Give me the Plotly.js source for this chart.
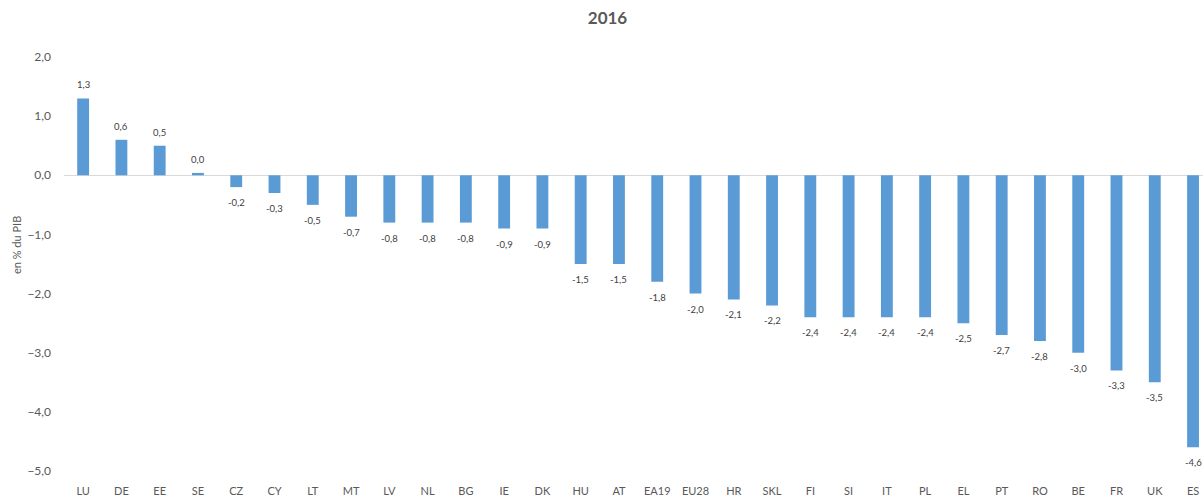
<!DOCTYPE html>
<html>
<head>
<meta charset="utf-8">
<script src="https://cdn.plot.ly/plotly-3.0.1.min.js"></script>
<style>
  body { margin: 0; background: #fff; }
  #chart { width: 1203px; height: 497px; }
</style>
</head>
<body>
<div id="chart"></div>
<script>
// solde en % du PIB, 2016
const countries = ['LU', 'DE', 'EE', 'SE', 'CZ', 'CY', 'LT', 'MT', 'LV', 'NL',
  'BG', 'IE', 'DK', 'HU', 'AT', 'EA19', 'EU28', 'HR', 'SKL', 'FI',
  'SI', 'IT', 'PL', 'EL', 'PT', 'RO', 'BE', 'FR', 'UK', 'ES'];
const balance = [1.3, 0.6, 0.5, 0.04, -0.2, -0.3, -0.5, -0.7, -0.8, -0.8,
  -0.8, -0.9, -0.9, -1.5, -1.5, -1.8, -2.0, -2.1, -2.2, -2.4,
  -2.4, -2.4, -2.4, -2.5, -2.7, -2.8, -3.0, -3.3, -3.5, -4.6];
const yTicks = [2, 1, 0, -1, -2, -3, -4, -5];

const grey = '#595959';
const font = 'Lato, "Open Sans", sans-serif';

const trace = {
  type: 'bar',
  x: countries,
  y: balance,
  width: 0.31,
  marker: { color: '#5B9BD5' },
  hoverinfo: 'x+y'
};

// data labels, pushed a bit away from the bar ends like in Excel
const labels = countries.map((c, i) => ({
  x: c,
  y: balance[i],
  text: balance[i].toFixed(1).replace('.', ','),
  showarrow: false,
  yanchor: balance[i] >= 0 ? 'bottom' : 'top',
  yshift: balance[i] >= 0 ? 6 : -8,
  font: { family: font, size: 9.5, color: '#404040' }
}));

// y title sits off-centre, near the left edge
labels.push({
  xref: 'paper', yref: 'paper',
  x: -0.049, y: 0.545,
  text: 'en % du PIB',
  textangle: -90,
  showarrow: false,
  font: { family: font, size: 11, color: grey }
});

const layout = {
  width: 1203,
  height: 497,
  margin: { l: 64, r: 0, t: 57, b: 26 },
  separators: ', ',
  paper_bgcolor: '#fff',
  plot_bgcolor: '#fff',
  showlegend: false,
  font: { family: font, color: grey },
  title: {
    text: '<b>2016</b>',
    x: 0.505,
    xanchor: 'center',
    y: 0.975,
    font: { family: font, size: 17, color: grey }
  },
  annotations: labels,
  xaxis: {
    type: 'category',
    range: [-0.5, 29.26],
    showgrid: false,
    showline: false,
    ticks: '',
    ticklabelstandoff: 12,
    tickfont: { family: font, size: 11, color: grey }
  },
  yaxis: {
    range: [-5, 2],
    tickvals: yTicks,
    tickformat: '.1f',
    showgrid: false,
    showline: false,
    zeroline: true,
    zerolinecolor: '#D9D9D9',
    zerolinewidth: 1.5,
    ticks: '',
    ticklabelstandoff: 12,
    tickfont: { family: font, size: 12, color: grey }
  }
};

Plotly.newPlot('chart', [trace], layout, { displayModeBar: false, staticPlot: true });
</script>
</body>
</html>
